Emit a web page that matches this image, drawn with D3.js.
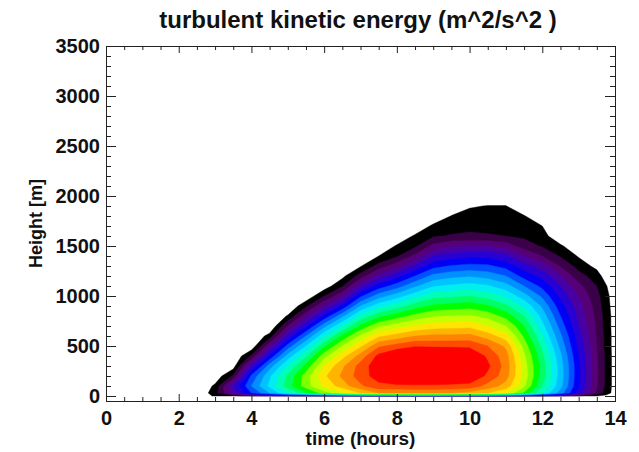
<!DOCTYPE html>
<html lang="en">
<head>
<meta charset="UTF-8">
<title>turbulent kinetic energy</title>
<script src="https://d3js.org/d3.v7.min.js"></script>
<style>
  body { margin: 0; background: #fff; }
  svg text { font-family: "Liberation Sans", Arial, sans-serif; font-weight: bold; fill: #111; }
</style>
</head>
<body>
<svg id="chart" width="639" height="452"></svg>
<script>
// grid of the model output: time columns (hours) and height rows (m)
const times = [2.5, 3.0, 3.5, 4.0, 4.5, 5.0, 5.5, 6.0, 6.5, 7.0, 7.5, 8.0, 8.5, 9.0,
               9.5, 10.0, 10.5, 11.0, 11.5, 12.0, 12.5, 13.0, 13.5, 13.75, 14.0];
const heights = [0, 30, 100, 200, 300, 400, 500, 600, 700, 800, 900, 1000, 1100,
                 1200, 1300, 1400, 1500, 1600, 1700, 1800, 1900, 2000, 2100];

// TKE (m^2/s^2), one row per time, values from the ground upward
const tke = [
  [0, 0, 0, 0, 0, 0, 0, 0, 0, 0, 0, 0, 0, 0, 0, 0, 0, 0, 0, 0, 0, 0, 0],
  [0.12, 0.16, 0.12, 0.03, 0, 0, 0, 0, 0, 0, 0, 0, 0, 0, 0, 0, 0, 0, 0, 0, 0, 0, 0],
  [0.15, 0.44, 0.5, 0.22, 0.05, 0, 0, 0, 0, 0, 0, 0, 0, 0, 0, 0, 0, 0, 0, 0, 0, 0, 0],
  [0.25, 0.7, 0.8, 0.72, 0.5, 0.22, 0.02, 0, 0, 0, 0, 0, 0, 0, 0, 0, 0, 0, 0, 0, 0, 0, 0],
  [0.3, 0.9, 1.02, 0.98, 0.85, 0.62, 0.38, 0.14, 0, 0, 0, 0, 0, 0, 0, 0, 0, 0, 0, 0, 0, 0, 0],
  [0.37, 1.1, 1.25, 1.22, 1.1, 0.94, 0.74, 0.52, 0.3, 0.11, 0, 0, 0, 0, 0, 0, 0, 0, 0, 0, 0, 0, 0],
  [0.43, 1.28, 1.45, 1.45, 1.33, 1.18, 1.0, 0.8, 0.58, 0.37, 0.18, 0.02, 0, 0, 0, 0, 0, 0, 0, 0, 0, 0, 0],
  [0.48, 1.45, 1.62, 1.68, 1.6, 1.46, 1.28, 1.08, 0.86, 0.62, 0.4, 0.2, 0.04, 0, 0, 0, 0, 0, 0, 0, 0, 0, 0],
  [0.53, 1.58, 1.75, 1.82, 1.78, 1.66, 1.5, 1.32, 1.1, 0.87, 0.62, 0.38, 0.19, 0.07, 0, 0, 0, 0, 0, 0, 0, 0, 0],
  [0.58, 1.7, 1.88, 1.95, 1.94, 1.84, 1.68, 1.52, 1.32, 1.12, 0.9, 0.68, 0.46, 0.25, 0.09, 0, 0, 0, 0, 0, 0, 0, 0],
  [0.62, 1.8, 1.97, 2.05, 2.07, 2.03, 1.88, 1.68, 1.48, 1.27, 1.06, 0.85, 0.64, 0.43, 0.24, 0.1, 0, 0, 0, 0, 0, 0, 0],
  [0.65, 1.8, 1.98, 2.12, 2.17, 2.12, 1.94, 1.74, 1.55, 1.35, 1.15, 0.95, 0.75, 0.56, 0.36, 0.186, 0.114, 0, 0, 0, 0, 0, 0],
  [0.66, 1.82, 1.98, 2.15, 2.2, 2.15, 1.99, 1.8, 1.61, 1.43, 1.25, 1.06, 0.88, 0.7, 0.51, 0.33, 0.181, 0.119, 0, 0, 0, 0, 0],
  [0.66, 1.82, 1.98, 2.15, 2.2, 2.16, 1.98, 1.82, 1.65, 1.49, 1.32, 1.16, 0.99, 0.83, 0.66, 0.5, 0.33, 0.188, 0.125, 0, 0, 0, 0],
  [0.65, 1.8, 1.97, 2.13, 2.18, 2.14, 1.98, 1.82, 1.66, 1.5, 1.34, 1.18, 1.02, 0.87, 0.71, 0.55, 0.39, 0.21, 0.155, 0.105, 0, 0, 0],
  [0.65, 1.76, 1.97, 2.08, 2.15, 2.1, 1.98, 1.83, 1.67, 1.51, 1.36, 1.2, 1.04, 0.89, 0.73, 0.57, 0.4, 0.22, 0.17, 0.135, 0.09, 0, 0],
  [0.61, 1.7, 1.86, 1.98, 2.02, 1.98, 1.9, 1.75, 1.6, 1.46, 1.31, 1.16, 1.01, 0.86, 0.72, 0.57, 0.4, 0.21, 0.17, 0.14, 0.104, 0, 0],
  [0.56, 1.6, 1.76, 1.84, 1.86, 1.84, 1.78, 1.64, 1.5, 1.36, 1.22, 1.08, 0.94, 0.8, 0.66, 0.52, 0.36, 0.2, 0.16, 0.13, 0.104, 0, 0],
  [0.49, 1.38, 1.52, 1.56, 1.55, 1.52, 1.46, 1.38, 1.3, 1.2, 1.08, 0.94, 0.8, 0.66, 0.54, 0.4, 0.25, 0.18, 0.14, 0.108, 0, 0, 0],
  [0.4, 1.1, 1.2, 1.25, 1.25, 1.22, 1.17, 1.1, 1.03, 0.96, 0.88, 0.78, 0.67, 0.56, 0.44, 0.3, 0.19, 0.15, 0.1, 0, 0, 0, 0],
  [0.3, 0.85, 0.93, 0.95, 0.95, 0.92, 0.87, 0.82, 0.76, 0.7, 0.64, 0.57, 0.5, 0.41, 0.29, 0.19, 0.12, 0, 0, 0, 0, 0, 0],
  [0.2, 0.56, 0.61, 0.62, 0.62, 0.6, 0.57, 0.54, 0.5, 0.47, 0.44, 0.39, 0.33, 0.24, 0.16, 0.09, 0, 0, 0, 0, 0, 0, 0],
  [0.1, 0.28, 0.31, 0.32, 0.32, 0.31, 0.3, 0.29, 0.28, 0.27, 0.25, 0.23, 0.2, 0.15, 0.07, 0, 0, 0, 0, 0, 0, 0, 0],
  [0.07, 0.16, 0.18, 0.18, 0.18, 0.18, 0.17, 0.17, 0.16, 0.16, 0.15, 0.14, 0.11, 0.05, 0, 0, 0, 0, 0, 0, 0, 0, 0],
  [0.03, 0.05, 0.05, 0.05, 0.05, 0.05, 0.05, 0.05, 0.05, 0.05, 0.04, 0.03, 0.02, 0, 0, 0, 0, 0, 0, 0, 0, 0, 0]
];

// contour levels and their fill colours (rainbow table, black at the bottom)
const levels = [0.1, 0.2, 0.3, 0.4, 0.5, 0.6, 0.7, 0.8, 0.9, 1.0,
                1.1, 1.2, 1.3, 1.4, 1.5, 1.6, 1.7, 1.8, 1.9, 2.0];
const levelColors = ["#000000", "#3a0048", "#560078", "#4800a4", "#2600d4", "#0000f6",
                     "#0050ff", "#0090ff", "#00c4ff", "#00eef0", "#00ffb4", "#00ff64",
                     "#00ff00", "#80ff00", "#c8ff00", "#ffe600", "#ffb400", "#ff8200",
                     "#ff4a00", "#ff0000"];

const xTicks = [0, 2, 4, 6, 8, 10, 12, 14];
const yTicks = [0, 500, 1000, 1500, 2000, 2500, 3000, 3500];

const svg = d3.select("#chart");
const plotLeft = 106, plotRight = 615, plotTop = 46, plotBottom = 401;

const x = d3.scaleLinear().domain([0, 14]).range([plotLeft, plotRight]);
const y = d3.scaleLinear().domain([-50, 3500]).range([plotBottom, plotTop]);

// grid index -> data coordinate (grid is not evenly spaced)
const tIndex = d3.scaleLinear().domain(d3.range(times.length)).range(times).clamp(true);
const hIndex = d3.scaleLinear().domain(d3.range(heights.length)).range(heights).clamp(true);

const nx = times.length, ny = heights.length;
const values = [];
for (let j = 0; j < ny; j++) {
  for (let i = 0; i < nx; i++) values.push(tke[i][j]);
}

const contours = d3.contours().size([nx, ny]).thresholds(levels)(values);

const project = d3.geoTransform({
  point: function(px, py) {
    this.stream.point(x(tIndex(px - 0.5)), y(hIndex(py - 0.5)));
  }
});
const path = d3.geoPath(project);

svg.append("g")
  .selectAll("path")
  .data(contours)
  .join("path")
  .attr("d", path)
  .attr("fill", (d, i) => levelColors[i])
  .attr("stroke", (d, i) => levelColors[i])
  .attr("stroke-width", 0.4);

// axes: ticks point inward on all four sides
const minorX = d3.range(0, 14.01, 0.5).filter(v => v % 2 !== 0);
const minorY = d3.range(0, 3501, 100).filter(v => v % 500 !== 0);

function styleAxis(g) {
  g.select(".domain").remove();
  g.selectAll("line").attr("stroke", "#222");
}

svg.append("g").attr("transform", `translate(0,${plotBottom})`)
  .call(d3.axisBottom(x).tickValues(xTicks).tickSizeInner(-7).tickSizeOuter(0).tickPadding(10))
  .call(styleAxis)
  .call(g => g.selectAll("text").attr("font-size", 20).attr("fill", "#111"));
svg.append("g").attr("transform", `translate(0,${plotBottom})`)
  .call(d3.axisBottom(x).tickValues(minorX).tickSizeInner(-4).tickSizeOuter(0).tickFormat(""))
  .call(styleAxis);
svg.append("g").attr("transform", `translate(0,${plotTop})`)
  .call(d3.axisTop(x).tickValues(xTicks).tickSizeInner(-7).tickSizeOuter(0).tickFormat(""))
  .call(styleAxis);
svg.append("g").attr("transform", `translate(0,${plotTop})`)
  .call(d3.axisTop(x).tickValues(minorX).tickSizeInner(-4).tickSizeOuter(0).tickFormat(""))
  .call(styleAxis);

svg.append("g").attr("transform", `translate(${plotLeft},0)`)
  .call(d3.axisLeft(y).tickValues(yTicks).tickFormat(d3.format("d"))
    .tickSizeInner(-10).tickSizeOuter(0).tickPadding(6))
  .call(styleAxis)
  .call(g => g.selectAll("text").attr("font-size", 20).attr("fill", "#111"));
svg.append("g").attr("transform", `translate(${plotLeft},0)`)
  .call(d3.axisLeft(y).tickValues(minorY).tickSizeInner(-5).tickSizeOuter(0).tickFormat(""))
  .call(styleAxis);
svg.append("g").attr("transform", `translate(${plotRight},0)`)
  .call(d3.axisRight(y).tickValues(yTicks).tickSizeInner(-10).tickSizeOuter(0).tickFormat(""))
  .call(styleAxis);
svg.append("g").attr("transform", `translate(${plotRight},0)`)
  .call(d3.axisRight(y).tickValues(minorY).tickSizeInner(-5).tickSizeOuter(0).tickFormat(""))
  .call(styleAxis);

svg.append("rect")
  .attr("x", plotLeft + 0.5).attr("y", plotTop + 0.5)
  .attr("width", plotRight - plotLeft).attr("height", plotBottom - plotTop)
  .attr("fill", "none").attr("stroke", "#222").attr("stroke-width", 1);

// titles
svg.append("text")
  .attr("x", 358).attr("y", 28)
  .attr("text-anchor", "middle").attr("font-size", 24)
  .text("turbulent kinetic energy (m^2/s^2 )");

svg.append("text")
  .attr("x", (plotLeft + plotRight) / 2).attr("y", 445)
  .attr("text-anchor", "middle").attr("font-size", 19)
  .text("time (hours)");

svg.append("text")
  .attr("transform", `translate(42,${(plotTop + plotBottom) / 2}) rotate(-90)`)
  .attr("text-anchor", "middle").attr("font-size", 18)
  .text("Height [m]");
</script>
</body>
</html>
